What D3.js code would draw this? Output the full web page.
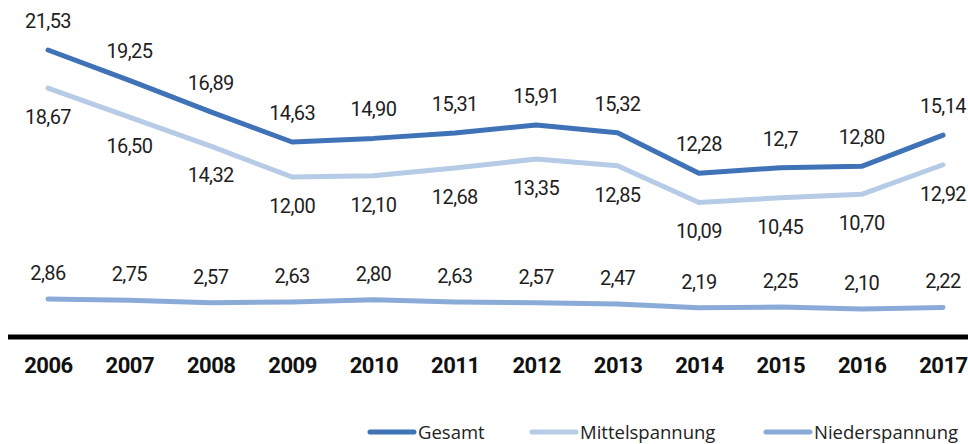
<!DOCTYPE html>
<html>
<head>
<meta charset="utf-8">
<script src="https://cdn.jsdelivr.net/npm/d3@7"></script>
<style>
  body { margin: 0; background: #fff; }
  svg { display: block; }
  .val { font-family: Roboto, "Noto Sans", sans-serif; font-size: 20px; fill: #1e1e1e; letter-spacing: -0.6px; }
  .year text { font-family: Roboto, "Noto Sans", sans-serif; font-size: 22px; font-weight: bold; fill: #111; letter-spacing: -0.5px; }
  .legend { font-family: "Open Sans", sans-serif; font-size: 18.5px; fill: #222; }
</style>
</head>
<body>
<svg id="chart" width="968" height="444"></svg>
<script>
// Jahre und Werte (wie im Bild beschriftet)
const years = ["2006", "2007", "2008", "2009", "2010", "2011", "2012", "2013", "2014", "2015", "2016", "2017"];
const gesamt = ["21,53", "19,25", "16,89", "14,63", "14,90", "15,31", "15,91", "15,32", "12,28", "12,7", "12,80", "15,14"];
const mittel = ["18,67", "16,50", "14,32", "12,00", "12,10", "12,68", "13,35", "12,85", "10,09", "10,45", "10,70", "12,92"];
const nieder = ["2,86", "2,75", "2,57", "2,63", "2,80", "2,63", "2,57", "2,47", "2,19", "2,25", "2,10", "2,22"];
const seriesNames = ["Gesamt", "Mittelspannung", "Niederspannung"];
const colors = ["#3f72b6", "#b5cbe6", "#8aabd7"];

const num = s => +s.replace(",", ".");

const svg = d3.select("#chart");

const x = d3.scalePoint().domain(years).range([48, 943]);
const y = d3.scaleLinear().domain([0, 21.53]).range([337, 50]);

const series = [
    { name: seriesNames[0], vals: gesamt, color: colors[0], dy: -22 },
    { name: seriesNames[1], vals: mittel, color: colors[1], dy: 36 },
    { name: seriesNames[2], vals: nieder, color: colors[2], dy: -19 }
];

const line = d3.line()
    .x((d, i) => x(years[i]))
    .y(d => y(num(d)));

// Linien
series.forEach(s => {
    svg.append("path")
        .attr("d", line(s.vals))
        .attr("fill", "none")
        .attr("stroke", s.color)
        .attr("stroke-width", 5)
        .attr("stroke-linecap", "round")
        .attr("stroke-linejoin", "round");

    svg.selectAll(null)
        .data(s.vals)
        .enter()
        .append("text")
        .attr("class", "val")
        .attr("x", (d, i) => x(years[i]))
        .attr("y", d => y(num(d)) + s.dy)
        .attr("text-anchor", "middle")
        .text(d => d);
});

// x-Achse
svg.append("line")
    .attr("x1", 8).attr("x2", 968)
    .attr("y1", 337).attr("y2", 337)
    .attr("stroke", "#000")
    .attr("stroke-width", 5);

const xAxis = svg.append("g")
    .attr("class", "year")
    .attr("transform", "translate(0,349)")
    .call(d3.axisBottom(x).tickSize(0).tickPadding(8));
xAxis.select(".domain").remove();
xAxis.selectAll("text").attr("font-family", null).attr("font-size", null).attr("fill", null);

// Legende
const legendX = [370, 532, 766];
series.forEach((s, i) => {
    const g = svg.append("g").attr("transform", `translate(${legendX[i]},432)`);
    g.append("line")
        .attr("x1", 0).attr("x2", 44)
        .attr("stroke", s.color)
        .attr("stroke-width", 5)
        .attr("stroke-linecap", "round");
    g.append("text")
        .attr("class", "legend")
        .attr("x", 48)
        .attr("y", 7)
        .text(s.name);
});
</script>
</body>
</html>
